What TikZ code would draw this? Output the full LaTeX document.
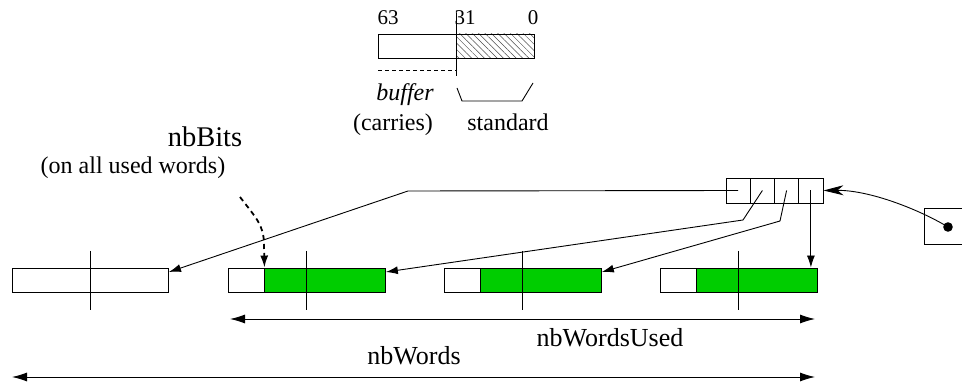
\documentclass[tikz,border=0pt]{standalone}
\usepackage{fontspec}
\setmainfont{Liberation Serif}
\usetikzlibrary{arrows.meta,patterns.meta,calc}
\definecolor{xgreen}{RGB}{0,205,0}
\tikzset{
  ln/.style={line width=0.9pt},
  wordbox/.style={draw, line width=0.9pt, inner sep=0pt, minimum height=24pt, fill=white},
  usedbox/.style={wordbox, fill=xgreen},
  hatchbox/.style={draw, line width=0.9pt, inner sep=0pt, minimum height=24pt,
    pattern={Lines[angle=-45,distance=4.5pt,line width=0.5pt]}, pattern color=black!70},
  cellbox/.style={draw, line width=0.9pt, inner sep=0pt, minimum width=24.25pt, minimum height=25pt},
  link/.style={line width=0.9pt, -{Latex[length=12pt,width=8pt]}},
  dimarrow/.style={line width=0.9pt, {Latex[length=15pt,width=9pt]}-{Latex[length=15pt,width=9pt]}},
  lbl/.style={inner sep=0pt, anchor=base, font=\fontsize{24}{28}\selectfont},
  numlbl/.style={inner sep=0pt, anchor=base, font=\fontsize{21}{25}\selectfont},
  biglbl/.style={inner sep=0pt, anchor=base, font=\fontsize{26}{30}\selectfont},
  hugelbl/.style={inner sep=0pt, anchor=base, font=\fontsize{28.5}{32}\selectfont},
}
\begin{document}
\begin{tikzpicture}[x=1pt,y=-1pt]
\useasboundingbox (0,0) rectangle (962,382);
\clip (0,0) rectangle (962,382);

% ---- top word layout ----
\node[wordbox, minimum width=78pt] (lo) at (417,46) {};
\node[hatchbox, minimum width=78pt] (hi) at (495,46) {};
\coordinate (m31t) at (456,13);
\coordinate (m31b) at (456,76);
\draw[ln] (m31t) -- (m31b);
\node[numlbl] (n63) at (388,25) {63};
\node[numlbl] (n31) at (465,25) {31};
\node[numlbl] (n0) at (533,25) {0};
\coordinate (dash1) at (378,70);
\coordinate (dash2) at (456,70);
\draw[ln, dashed, dash pattern=on 4pt off 3pt] (dash1) -- (dash2);
\coordinate (br1) at (457,88);
\coordinate (br2) at (462,101);
\coordinate (br3) at (522,101);
\coordinate (br4) at (533,83);
\draw[ln] (br1) -- (br2) -- (br3) -- (br4);
\node[lbl, font=\fontsize{24}{28}\selectfont\itshape] (buf) at (405,101) {buffer};
\node[lbl] (carr) at (393,131) {(carries)};
\node[lbl] (std) at (508,131) {standard};

% ---- nbBits label ----
\node[hugelbl] (nbb) at (205,147) {nbBits};
\node[lbl] (onall) at (133,174) {(on all used words)};

% ---- pointer cells ----
\node[cellbox] (c1) at (738.1,190.5) {};
\node[cellbox] (c2) at (762.4,190.5) {};
\node[cellbox] (c3) at (786.6,190.5) {};
\node[cellbox] (c4) at (810.9,190.5) {};

% ---- right (pointer) box ----
\coordinate (rb1) at (964,208);
\coordinate (rb2) at (924,208);
\coordinate (rb3) at (924,244);
\coordinate (rb4) at (964,244);
\draw[ln] (rb1) -- (rb2) -- (rb3) -- (rb4);
\coordinate (ptr) at (948,227);
\fill (ptr) circle (4.8pt);
\draw[line width=0.9pt, -{Stealth[length=20pt,width=10pt,inset=6pt]}]
  (ptr) .. controls (920,210) and (870,190) .. (c4.east);

% ---- word arrays ----
\node[wordbox, minimum width=156.5pt] (a1) at (90.25,280) {};
\node[wordbox, minimum width=36pt] (a2w) at (246,280) {};
\node[usedbox, minimum width=120.5pt, anchor=west] (a2g) at (a2w.east) {};
\node[wordbox, minimum width=36pt] (a3w) at (462,280) {};
\node[usedbox, minimum width=120.5pt, anchor=west] (a3g) at (a3w.east) {};
\node[wordbox, minimum width=36pt] (a4w) at (678,280) {};
\node[usedbox, minimum width=120.5pt, anchor=west] (a4g) at (a4w.east) {};
\foreach \x/\n in {90/t1,306/t2,522/t3,738/t4}{
  \coordinate (\n a) at (\x,251);
  \coordinate (\n b) at (\x,310);
  \draw[ln] (\n a) -- (\n b);
}

% ---- links from cells ----
\coordinate (k1) at (408,191);
\draw[link] (c1.center) -- (k1) -- ($(a1.east)+(0,-8)$);
\coordinate (k2) at (743,220);
\draw[link] (c2.center) -- (k2) -- ($(a2g.east)+(0,-8)$);
\coordinate (k3) at (780,221);
\draw[link] (c3.center) -- (k3) -- ($(a3g.east)+(0,-8)$);
\draw[link] (c4.center) -- (c4.center |- a4g.north);

% ---- nbBits dashed arrow ----
\coordinate (nbs) at (240,197);
\coordinate (nbm) at (264,245);
\draw[line width=1.8pt, dash pattern=on 5pt off 4pt, -{Latex[length=12pt,width=8pt]}]
  (nbs) .. controls (256,218) and (264,225) .. (nbm) -- (a2g.north west);

% ---- dimension arrows ----
\coordinate (u1) at (230,319);
\coordinate (u2) at (815,319);
\draw[dimarrow] (u1) -- (u2);
\node[biglbl] (nwu) at (610,347) {nbWordsUsed};
\coordinate (w1) at (12,377);
\coordinate (w2) at (815,377);
\draw[dimarrow] (w1) -- (w2);
\node[biglbl] (nw) at (414,364) {nbWords};
\end{tikzpicture}
\end{document}
